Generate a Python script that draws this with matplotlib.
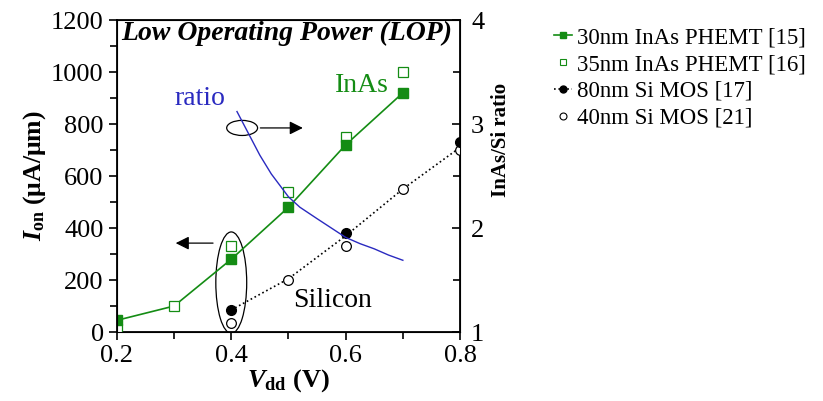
import matplotlib.pyplot as plt
from matplotlib.lines import Line2D
from matplotlib.patches import Ellipse
from matplotlib.ticker import MultipleLocator

plt.rcParams['font.family'] = ['Liberation Serif', 'DejaVu Serif']
plt.rcParams['mathtext.fontset'] = 'custom'
plt.rcParams['mathtext.rm'] = 'Liberation Serif'
plt.rcParams['mathtext.it'] = 'Liberation Serif:italic:bold'
plt.rcParams['mathtext.bf'] = 'Liberation Serif:bold'

# 30nm InAs PHEMT (filled squares) and the green line through InAs points
inas30_v = [0.2, 0.4, 0.5, 0.6, 0.7]
inas30_i = [45, 280, 480, 720, 920]
inas_line_v = [0.2, 0.3, 0.4, 0.5, 0.6, 0.7]
inas_line_i = [45, 100, 280, 480, 720, 920]

# 35nm InAs PHEMT (open squares)
inas35_v = [0.2, 0.3, 0.4, 0.5, 0.6, 0.7]
inas35_i = [10, 100, 330, 540, 750, 1000]

# 80nm Si MOS (filled circles), dotted silicon line
si80_v = [0.4, 0.6, 0.8]
si80_i = [85, 380, 730]
si_line_v = [0.4, 0.5, 0.6, 0.7, 0.8]
si_line_i = [85, 205, 370, 550, 710]

# 40nm Si MOS (open circles)
si40_v = [0.4, 0.5, 0.6, 0.7, 0.8]
si40_i = [35, 200, 330, 550, 700]

# InAs/Si ratio (right axis)
ratio_v = [0.41, 0.43, 0.45, 0.47, 0.5, 0.52, 0.55, 0.575, 0.6, 0.625, 0.65, 0.675, 0.7]
ratio_r = [3.12, 2.91, 2.70, 2.52, 2.30, 2.20, 2.09, 2.00, 1.91, 1.85, 1.80, 1.74, 1.69]

legend_labels = ['30nm InAs PHEMT [15]', '35nm InAs PHEMT [16]',
                 '80nm Si MOS [17]', '40nm Si MOS [21]']

green = '#148c14'
blue = '#2a2ac0'

fig = plt.figure(figsize=(8.23, 4.01), dpi=100)
ax = fig.add_axes([0.142, 0.172, 0.417, 0.778])
ax2 = ax.twinx()

ax.plot(inas_line_v, inas_line_i, '-', color=green, lw=1.2, zorder=2)
ax.plot(inas30_v, inas30_i, 's', color=green, mec=green, ms=7, zorder=4)
ax.plot(inas35_v, inas35_i, 's', mfc='white', mec=green, mew=0.9, ms=7, zorder=3)
ax.plot(si_line_v, si_line_i, ':', color='black', lw=1.2, zorder=2)
ax.plot(si80_v, si80_i, 'o', color='black', ms=7, zorder=4)
ax.plot(si40_v, si40_i, 'o', mfc='white', mec='black', mew=0.9, ms=7, zorder=3)
ax2.plot(ratio_v, ratio_r, '-', color=blue, lw=1.0)

ax.set_xlim(0.2, 0.8)
ax.set_ylim(0, 1200)
ax2.set_ylim(1, 4)
ax.set_xticks([0.2, 0.4, 0.6, 0.8])
ax.set_xticklabels(['0.2', '0.4', '0.6', '0.8'])
ax.xaxis.set_minor_locator(MultipleLocator(0.1))
ax.yaxis.set_major_locator(MultipleLocator(200))
ax.yaxis.set_minor_locator(MultipleLocator(100))
ax2.yaxis.set_major_locator(MultipleLocator(1))
ax2.yaxis.set_minor_locator(MultipleLocator(0.5))
ax.tick_params(axis='both', which='both', direction='out', labelsize=19, width=1.2)
ax.tick_params(which='major', length=6)
ax.tick_params(which='minor', length=5)
ax2.tick_params(axis='y', which='both', direction='in', labelsize=19, width=1.2, pad=8)
ax2.tick_params(which='major', length=6)
ax2.tick_params(which='minor', length=5)
for s in ax.spines.values():
    s.set_linewidth(1.3)

ax.set_xlabel(r'$V_{\mathbf{dd}}$ (V)', fontsize=19, fontweight='bold', labelpad=0)
ax.set_ylabel(r'$I_{\mathbf{on}}$ ($\mathbf{\mu}$A/$\mathbf{\mu}$m)', fontsize=18.5,
              fontweight='bold', labelpad=2)
ax2.set_ylabel('InAs/Si ratio', fontsize=15, fontweight='bold')
ax2.yaxis.set_label_coords(1.09, 0.615)

ax.text(0.207, 1150, 'Low Operating Power (LOP)', fontsize=20,
        fontweight='bold', style='italic', va='center')
ax.text(0.581, 950, 'InAs', fontsize=20, color=green, va='center')
ax.text(0.30, 900, 'ratio', fontsize=20, color=blue, va='center')
ax.text(0.508, 123, 'Silicon', fontsize=20, va='center')

ax.add_patch(Ellipse((0.419, 785), 0.054, 58, fill=False, lw=0.9))
ax.annotate('', xy=(0.53, 785), xytext=(0.446, 785),
            arrowprops=dict(arrowstyle='-|>', color='black', lw=0.9, mutation_scale=20))
ax.add_patch(Ellipse((0.4, 190), 0.054, 390, fill=False, lw=0.9))
ax.annotate('', xy=(0.298, 342), xytext=(0.373, 342),
            arrowprops=dict(arrowstyle='-|>', color='black', lw=0.9, mutation_scale=20))

handles = [
    Line2D([], [], ls='-', marker='s', color=green, ms=5, lw=1.2),
    Line2D([], [], ls='none', marker='s', mfc='white', mec=green, ms=5, mew=0.8),
    Line2D([], [], ls=':', marker='o', color='black', ms=5, lw=1.2),
    Line2D([], [], ls='none', marker='o', mfc='white', mec='black', ms=5, mew=0.8),
]
fig.legend(handles, legend_labels, loc='upper left', bbox_to_anchor=(0.662, 0.955),
           frameon=False, fontsize=16.5, handlelength=0.8, handletextpad=0.2,
           labelspacing=0.25, borderaxespad=0)

fig.savefig('out.png', dpi=100)
